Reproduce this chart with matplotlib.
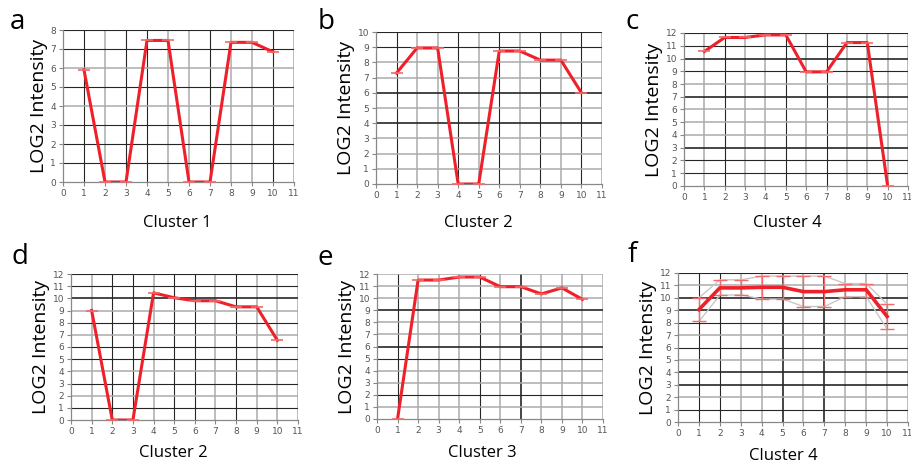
import matplotlib
matplotlib.use("Agg")
import matplotlib.pyplot as plt

# x positions shared by all panels
samples = [1, 2, 3, 4, 5, 6, 7, 8, 9, 10]

# panel values
cluster_a = [5.9, 0, 0, 7.45, 7.45, 0, 0, 7.35, 7.35, 6.85]
cluster_b = [7.3, 8.95, 8.95, 0, 0, 8.75, 8.75, 8.15, 8.15, 6.0]
cluster_c = [10.55, 11.65, 11.65, 11.85, 11.85, 8.95, 8.95, 11.25, 11.25, 0]
cluster_d = [9.0, 0, 0, 10.45, 10.05, 9.8, 9.8, 9.3, 9.3, 6.55]
cluster_e = [0, 11.5, 11.5, 11.75, 11.75, 10.95, 10.95, 10.35, 10.85, 9.9]
cluster_f = [9.05, 10.8, 10.8, 10.85, 10.85, 10.5, 10.5, 10.65, 10.65, 8.5]
cluster_f_hi = [10.0, 11.45, 11.45, 11.75, 11.75, 11.75, 11.75, 11.15, 11.15, 9.5]
cluster_f_lo = [8.1, 10.2, 10.25, 9.9, 9.9, 9.3, 9.3, 10.1, 10.1, 7.5]

letters = ['a', 'b', 'c', 'd', 'e', 'f']
titles = ['Cluster 1', 'Cluster 2', 'Cluster 4', 'Cluster 2', 'Cluster 3', 'Cluster 4']
y_max = [8, 10, 12, 12, 12, 12]

RED = '#f0202a'

# layout in pixels: left, bottom(from top), width, height
boxes = [(63, 182, 231, 152), (376, 184, 226, 152), (684, 186, 224, 153),
         (71, 420, 227, 146), (377, 419, 226, 145), (678, 422, 230, 149)]
letter_pos = [(10, 22), (318, 22), (626, 22), (12, 257), (318, 258), (628, 255)]
title_pos = [(177, 223), (478, 223), (787, 223), (173, 453), (482, 453), (783, 456)]

# grid colouring (scanned image look): k black, K thick black, g gray
v_grid = ['kgkkggkggkg', 'kggkgkgkgkg', 'gkggkgkgggg',
          'gkkgkkgkggg', 'kgggkgKgggg', 'kkggKgKgggg']
h_grid = ['kkkgkgkk', 'gggKgKggkk', 'kkKgggKgkKkk',
          'kgkgkkgkgKkk', 'gkggkKggKggg', 'kgKKgkgkKKgk']

W, H = 912, 468
fig = plt.figure(figsize=(W / 100, H / 100), dpi=100)

for i in range(6):
    l, b, w, h = boxes[i]
    ax = fig.add_axes([l / W, 1 - b / H, w / W, h / H])
    ax.set_xlim(0, 11)
    ax.set_ylim(0, y_max[i])

    for j, c in enumerate(v_grid[i]):
        col = '#262626' if c in 'kK' else '#ababab'
        lw = 1.2 if c == 'K' else (0.8 if c == 'k' else 1.1)
        ax.axvline(j + 1, color=col, lw=lw, zorder=1)
    for j, c in enumerate(h_grid[i]):
        col = '#262626' if c in 'kK' else '#ababab'
        lw = 1.2 if c == 'K' else (0.8 if c == 'k' else 1.1)
        ax.axhline(j + 1, color=col, lw=lw, zorder=1)

    for s in ['top', 'right']:
        ax.spines[s].set_visible(False)
    for s in ['left', 'bottom']:
        ax.spines[s].set_color('#888888')
        ax.spines[s].set_linewidth(0.9)

    ax.set_xticks(range(0, 12))
    ax.set_yticks(range(0, y_max[i] + 1))
    ax.tick_params(labelsize=6.5, colors='#888888', labelcolor='#555555',
                   length=3, width=0.8, pad=2)

    data = [cluster_a, cluster_b, cluster_c, cluster_d, cluster_e, cluster_f][i]
    if i == 5:
        ax.plot(samples, cluster_f_hi, color='#c8c8c8', lw=1, zorder=2)
        ax.plot(samples, cluster_f_lo, color='#c8c8c8', lw=1, zorder=2)
        err = [[m - lo for m, lo in zip(data, cluster_f_lo)],
               [hi - m for m, hi in zip(data, cluster_f_hi)]]
        ax.errorbar(samples, data, yerr=err, fmt='none', ecolor='#f46a6a',
                    elinewidth=1, capsize=5, capthick=1, zorder=3)
        ax.plot(samples, data, color=RED, lw=2.6, zorder=4)
    else:
        ax.plot(samples, data, color=RED, lw=2.2, zorder=4,
                marker='_', markersize=9, markeredgewidth=1.2,
                markeredgecolor='#f46a6a')

    ax.set_ylabel('LOG2 Intensity', fontsize=14, family='Open Sans', labelpad=2)

    fig.text(letter_pos[i][0] / W, 1 - letter_pos[i][1] / H, letters[i],
             fontsize=20, family='Open Sans', va='center', ha='left')
    fig.text(title_pos[i][0] / W, 1 - title_pos[i][1] / H, titles[i],
             fontsize=12, family='Open Sans', va='center', ha='center')

fig.savefig('out.png', dpi=100)
